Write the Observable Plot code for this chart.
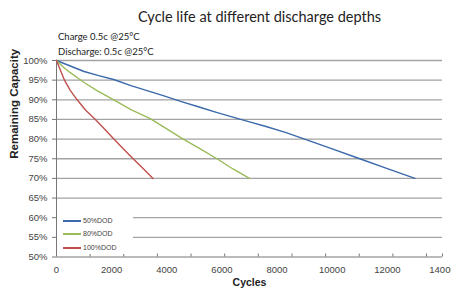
<!DOCTYPE html>
<html><head><meta charset="utf-8">
<script src="https://cdn.jsdelivr.net/npm/d3@7"></script>
<script src="https://cdn.jsdelivr.net/npm/@observablehq/plot@0.6"></script>
<style>
body{margin:0;background:#fff;}
#wrap{position:relative;width:451px;height:291px;overflow:hidden;}
.t{position:absolute;font-family:Lato,"Open Sans",sans-serif;color:#222;white-space:nowrap;}
#legend{position:absolute;left:57px;top:209px;width:76px;height:45px;background:#fff;font-family:"Liberation Sans",Arial,sans-serif;font-size:7px;color:#444;}
.li{position:absolute;left:6px;height:9px;display:flex;align-items:center;}
.li span{display:inline-block;width:18px;height:2px;margin-right:2px;}
</style></head>
<body><div id="wrap"></div>
<script>
const title = "Cycle life at different discharge depths";
const subtitle = ["Charge 0.5c @25°C", "Discharge: 0.5c @25°C"];
const seriesNames = ["50%DOD", "80%DOD", "100%DOD"];
const seriesColors = ["#3b69aa", "#9bbb59", "#c0504d"];

const cycles50 = [0,500,1000,1500,2100,2700,3400,3900,4500,5200,5800,6300,7000,7600,8300,9000,10000,11000,12000,13000];
const cap50    = [100,98.6,97.2,96.2,95.1,93.6,92.1,91.0,89.6,88.1,86.8,85.8,84.4,83.2,81.7,80,77.5,75,72.5,70];
const cycles80 = [0,250,500,1000,1500,2080,2700,3400,4000,4550,5200,5820,6400,7000];
const cap80    = [100,98.3,96.9,94.4,92.2,90,87.5,85.2,82.6,80.2,77.6,75,72.4,70];
const cycles100 = [0,150,290,500,750,1050,1410,1750,2080,2430,2780,3140,3500];
const cap100    = [100,97.4,95,92.4,90,87.4,85,82.5,80,77.5,75,72.5,70];

const xTickLabels = [0,2000,4000,6000,8000,10000,12000,14000];
const xTickMarks = [1220,2440,3660,4880,6100,7320,8540,9760,10980,12200,13420,14000];
const yTicks = [50,55,60,65,70,75,80,85,90,95,100];
const yGrid = [55,60,65,70,75,80,85,90,95,100];

const data = [];
[[cycles50,cap50],[cycles80,cap80],[cycles100,cap100]].forEach(([xs,ys],i)=>{
  xs.forEach((x,j)=>data.push({series:seriesNames[i], x, y:ys[j]}));
});

const chart = Plot.plot({
  width: 451, height: 291,
  marginTop: 60, marginBottom: 34.5, marginLeft: 56, marginRight: 9,
  style: {fontFamily: '"Liberation Sans", Arial, sans-serif', fontSize: "9.5px", color: "#444", background: "#fff"},
  x: {type: "linear", domain: [0, 14000]},
  y: {type: "linear", domain: [50, 100]},
  color: {domain: seriesNames, range: seriesColors},
  marks: [
    Plot.ruleY(yGrid, {stroke: "#a3a3a3", strokeWidth: 1.3}),
    Plot.ruleX([0], {stroke: "#777", strokeWidth: 1}),
    Plot.ruleY([50], {stroke: "#777", strokeWidth: 1}),
    Plot.axisY({ticks: yTicks, tickFormat: d => d + "%", tickSize: 4, tickPadding: 5, label: null, stroke: "#777", fill: "#444"}),
    Plot.axisX({ticks: xTickLabels, tickFormat: d => String(d), tickSize: 0, tickPadding: 9, label: null, fill: "#444"}),
    Plot.ruleX(xTickMarks, {x: d => d, y1: 50, y2: 50, insetTop: -3, stroke: "#777", strokeWidth: 1}),
    Plot.line(data, {x: "x", y: "y", z: "series", stroke: "series", strokeWidth: 1.4}),
    Plot.text(["Cycles"], {frameAnchor: "bottom", dy: 29, fontWeight: "bold", fontSize: 10.5, fill: "#222"}),
    Plot.text(["Remaining Capacity"], {frameAnchor: "left", dx: -42, rotate: -90, fontWeight: "bold", fontSize: 11.5, fill: "#222"})
  ]
});
const wrap = document.getElementById("wrap");
wrap.appendChild(chart);

function addText(txt, left, top, size, extra) {
  const d = document.createElement("div");
  d.className = "t"; d.textContent = txt;
  d.style.left = left + "px"; d.style.top = top + "px"; d.style.fontSize = size + "px";
  if (extra) Object.assign(d.style, extra);
  wrap.appendChild(d);
}
addText(title, 34, 8, 14.5, {width: "451px", textAlign: "center"});
addText(subtitle[0], 58, 31, 9.5);
addText(subtitle[1], 58, 46, 9.5);

const lg = document.createElement("div"); lg.id = "legend";
seriesNames.forEach((n,i)=>{
  const it = document.createElement("div"); it.className = "li";
  it.style.top = [7,20,34][i] + "px";
  const sw = document.createElement("span"); sw.style.background = seriesColors[i];
  it.appendChild(sw); it.appendChild(document.createTextNode(n));
  lg.appendChild(it);
});
wrap.appendChild(lg);
</script></body></html>
